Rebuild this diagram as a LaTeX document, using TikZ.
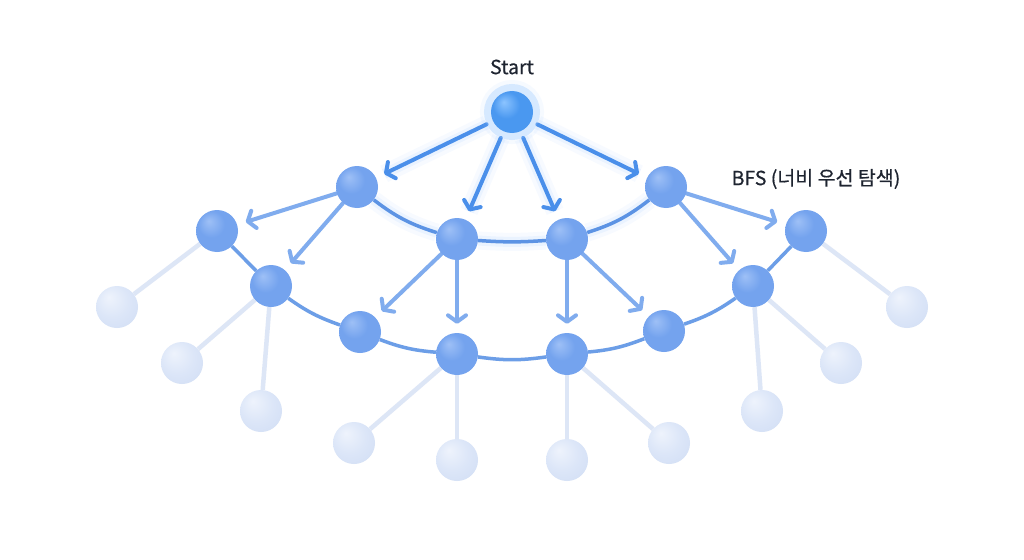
\documentclass[tikz,border=0pt]{standalone}
\usepackage{fontspec}
\setmainfont{Noto Sans}
\newfontfamily\krfont[FakeBold=0.5]{Noto Sans CJK KR}
\usetikzlibrary{arrows.meta}

\definecolor{startlight}{HTML}{8CC4FF}
\definecolor{startblue}{HTML}{4A98F0}
\definecolor{startdark}{HTML}{3479DB}
\definecolor{midlight}{HTML}{9EC0F6}
\definecolor{midblue}{HTML}{74A3EE}
\definecolor{middark}{HTML}{5A8CE0}
\definecolor{leaflight}{HTML}{EEF3FC}
\definecolor{leafblue}{HTML}{DCE6F8}
\definecolor{leafdark}{HTML}{CAD8F2}
\definecolor{topline}{HTML}{4A8FEA}
\definecolor{chainline}{HTML}{5C93E4}
\definecolor{midline}{HTML}{80ACEE}
\definecolor{leafline}{HTML}{DDE6F6}
\definecolor{glowblue}{HTML}{8FC2FF}
\definecolor{textdark}{HTML}{1E2430}

\pgfdeclareradialshading{startball}{\pgfpoint{-10bp}{12bp}}{color(0bp)=(startlight); color(16bp)=(startblue); color(34bp)=(startblue); color(50bp)=(startdark)}
\pgfdeclareradialshading{midball}{\pgfpoint{-10bp}{12bp}}{color(0bp)=(midlight); color(16bp)=(midblue); color(34bp)=(midblue); color(50bp)=(middark)}
\pgfdeclareradialshading{leafball}{\pgfpoint{-10bp}{12bp}}{color(0bp)=(leaflight); color(20bp)=(leafblue); color(50bp)=(leafdark)}

\pgfdeclarelayer{back}
\pgfdeclarelayer{bg}
\pgfsetlayers{back,bg,main}

\begin{document}
\begin{tikzpicture}[x=1pt,y=-1pt]
	\tikzset{
		ball/.style={circle, inner sep=0pt, minimum size=42pt},
		startnode/.style={ball, shade, shading=startball,
			preaction={draw=glowblue, line width=22pt, opacity=0.08},
			preaction={draw=glowblue, line width=14pt, opacity=0.3}},
		midnode/.style={ball, shade, shading=midball},
		leafnode/.style={ball, shade, shading=leafball},
		barb/.style={-{Straight Barb[length=6.5pt,width=18pt,round]}},
		soft/.style={preaction={draw=glowblue, line width=18pt, opacity=0.07, arrows=-},
			preaction={draw=glowblue, line width=10pt, opacity=0.12, arrows=-}},
		toparrow/.style={barb, soft, draw=topline, line width=4pt, line cap=round,
			shorten <=7pt, shorten >=9pt},
		midarrow/.style={barb, draw=midline, line width=4pt, line cap=round,
			shorten >=9pt},
		topchain/.style={soft, draw=chainline, line width=3.5pt},
		chain/.style={draw=chainline!90, line width=3.5pt},
		leafedge/.style={draw=leafline, line width=4.5pt},
		label/.style={text=textdark, inner sep=1pt}
	}
	\useasboundingbox (0,0) rectangle (1024,559);
	\begin{pgfonlayer}{back}
	\fill[white] (0,0) rectangle (1024,559);
	\end{pgfonlayer}

	%---NODES---
	\node[startnode] (s) at (512,112) {};

	\node[midnode] (11) at (357,187) {};
	\node[midnode] (12) at (457,239) {};
	\node[midnode] (13) at (567,239) {};
	\node[midnode] (14) at (666,187) {};

	\node[midnode] (21) at (217,231) {};
	\node[midnode] (22) at (271,286) {};
	\node[midnode] (23) at (360,332) {};
	\node[midnode] (24) at (457,354) {};
	\node[midnode] (25) at (567,354) {};
	\node[midnode] (26) at (664,331) {};
	\node[midnode] (27) at (753,286) {};
	\node[midnode] (28) at (806,231) {};

	\node[leafnode] (31) at (117,307) {};
	\node[leafnode] (32) at (182,363) {};
	\node[leafnode] (33) at (261,411) {};
	\node[leafnode] (34) at (354,443) {};
	\node[leafnode] (35) at (457,460) {};
	\node[leafnode] (36) at (567,460) {};
	\node[leafnode] (37) at (669,443) {};
	\node[leafnode] (38) at (762,411) {};
	\node[leafnode] (39) at (841,363) {};
	\node[leafnode] (40) at (907,307) {};

	\node[label, font=\fontsize{19.5}{23}\selectfont\krfont] (start) at (512,67) {Start};
	\node[label, font=\fontsize{19.5}{23}\selectfont\krfont] (bfs) at (816,179) {BFS (너비 우선 탐색)};

	%---EDGES---
	\begin{pgfonlayer}{bg}
	\foreach \u/\v in {21/31,22/32,22/33,24/34,24/35,25/36,25/37,27/38,27/39,28/40}
		\draw[leafedge] (\u) -- (\v) ;

	\draw[chain] (21) -- (22) ;
	\foreach \u/\v in {22/23,23/24,24/25,25/26,26/27}
		\draw[chain] (\u) to[bend right=8] (\v) ;
	\draw[chain] (27) -- (28) ;

	\foreach \u/\v in {11/21,11/22,12/23,12/24,13/25,13/26,14/27,14/28}
		\draw[midarrow] (\u) -- (\v) ;

	\draw[topchain] (11) to[bend right=10] (12) ;
	\draw[topchain] (12) to[bend right=4] (13) ;
	\draw[topchain] (13) to[bend right=10] (14) ;

	\foreach \v in {11,12,13,14}
		\draw[toparrow] (s) -- (\v) ;
	\end{pgfonlayer}
\end{tikzpicture}
\end{document}
